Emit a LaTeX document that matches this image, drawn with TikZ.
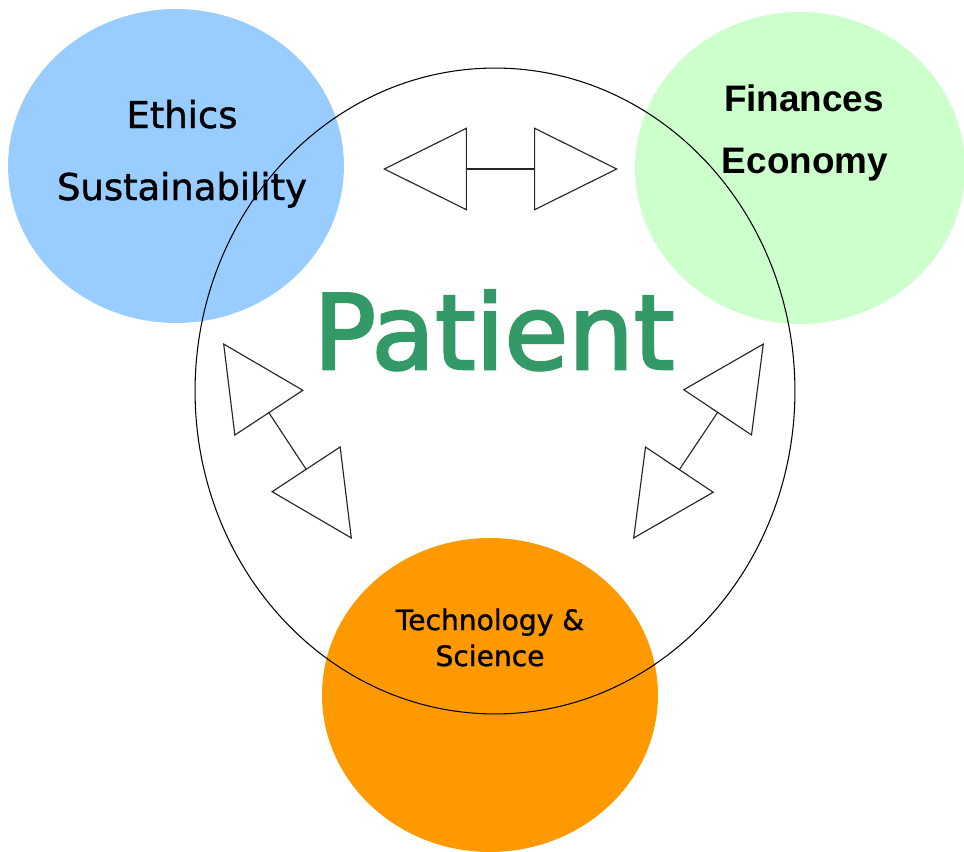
\documentclass[tikz,border=0pt]{standalone}
\usepackage{fontspec}
\setmainfont{DejaVu Sans}
\newfontfamily\arialfont{Liberation Sans}
\newfontfamily\areafont[FakeBold=1.2]{DejaVu Sans}
\newfontfamily\patientfont[FakeBold=2.5]{DejaVu Sans}
\usepackage{tikz}
\usetikzlibrary{arrows.meta, positioning, shapes}
\definecolor{ethicsblue}{RGB}{153,204,255}
\definecolor{financegreen}{RGB}{204,255,204}
\definecolor{techorange}{RGB}{255,153,0}
\definecolor{patientgreen}{RGB}{51,153,102}

\begin{document}
\begin{tikzpicture}[x=0.02cm, y=-0.02cm,
    area/.style={ellipse, inner sep=0pt},
    txt/.style={anchor=base, font=\areafont\fontsize{21}{25}\selectfont},
    twoway/.style={line width=0.65pt, draw=black!85, {Triangle[open,length=1.68cm,width=1.66cm]}-{Triangle[open,length=1.68cm,width=1.66cm]}}]
    \useasboundingbox (0,0) rectangle (964,852);
    % farbige Bereiche
    \node[area, fill=ethicsblue, minimum width=6.72cm, minimum height=6.28cm] (ethics) at (176,166) {};
    \node[area, fill=financegreen, minimum width=6.6cm, minimum height=6.24cm] (finance) at (800,168) {};
    \node[area, fill=techorange, minimum width=6.72cm, minimum height=6.28cm] (tech) at (490,695) {};
    % grosser Kreis
    \node[area, draw, line width=0.6pt, minimum width=12cm, minimum height=12.92cm] (patient) at (495,391) {};
    % Texte
    \node[txt] (ethicsA) at (182,128) {Ethics};
    \node[txt] (ethicsB) at (182,200) {Sustainability};
    \node[txt, font=\arialfont\bfseries\fontsize{21}{25}\selectfont] (financeA) at (804,111) {Finances};
    \node[txt, font=\arialfont\bfseries\fontsize{21}{25}\selectfont] (financeB) at (805,173) {Economy};
    \node[txt, font=\areafont\fontsize{16}{19}\selectfont] (techA) at (490,630) {Technology \&};
    \node[txt, font=\areafont\fontsize{16}{19}\selectfont] (techB) at (490,666) {Science};
    \node[txt, font=\patientfont\fontsize{59}{70}\selectfont, text=patientgreen] (patientT) at (494,369) {Patient};
    % Doppelpfeile
    \coordinate (topL) at (383,169);
    \coordinate (topR) at (618,169);
    \coordinate (leftA) at (223,343);
    \coordinate (leftB) at (352,539);
    \coordinate (rightA) at (764,343);
    \coordinate (rightB) at (633,539);
    \draw[twoway] (topL) -- (topR);
    \draw[twoway] (leftA) -- (leftB);
    \draw[twoway] (rightA) -- (rightB);
\end{tikzpicture}
\end{document}
